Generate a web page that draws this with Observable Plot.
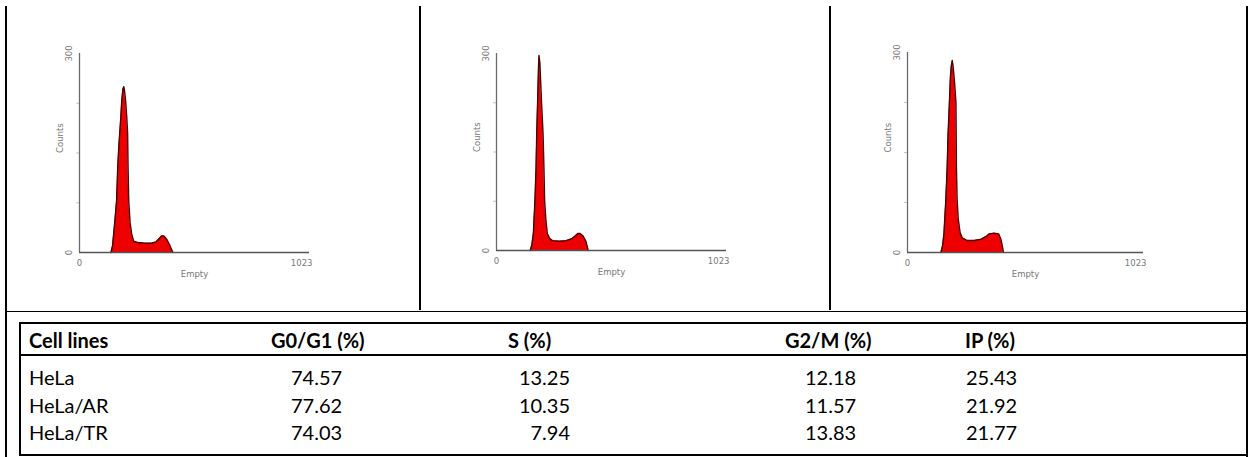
<!DOCTYPE html>
<html>
<head>
<meta charset="utf-8">
<script src="https://cdn.jsdelivr.net/npm/d3@7"></script>
<script src="https://cdn.jsdelivr.net/npm/@observablehq/plot@0.6"></script>
<style>
  html, body { margin: 0; padding: 0; background: #fff; }
  #wrap { position: relative; width: 1251px; height: 457px; overflow: hidden; font-family: Lato, "Open Sans", sans-serif; }
  .line { position: absolute; background: #000; }
  .cell { position: absolute; top: 6px; height: 304px; }
  .cell svg { display: block; }
  #tbl { position: absolute; left: 19px; top: 322px; width: 1228px; height: 134px; }
  .t { position: absolute; font-size: 20px; color: #000; white-space: nowrap; line-height: 22px; }
  .h { font-weight: bold; }
</style>
</head>
<body>
<div id="wrap"></div>
<script>
// ---------- DATA ----------
const panelNames = ["HeLa", "HeLa/AR", "HeLa/TR"];
const xAxisLabel = "Empty";
const yAxisLabel = "Counts";
const xTicks = [0, 1023];
const yTicks = [0, 300];
const yMinorTicks = [75, 150, 225];
const yMax = 300;

// DNA content histograms (channel, counts)
const helaChannel = [140, 147, 152, 158, 165, 170, 175, 179, 184, 188, 193, 197, 201, 205, 210, 214, 216, 219, 225, 232, 241, 260, 290, 320, 340, 355, 365, 375, 388, 400, 410, 416];
const helaCounts  = [0,   10,  28,  50,  78,  128, 160, 180, 205, 229, 246, 250, 242, 229, 205, 180, 128, 78,  45,  28,  17,  15,  14,  14,  16,  21,  25,  25,  20,  12,  4,   0];

const helaARChannel = [150, 157, 164, 171, 176, 179, 183, 187, 189, 193, 200, 207, 211, 214, 220, 226, 237, 249, 280, 310, 335, 350, 362, 372, 385, 398, 405, 408];
const helaARCounts  = [0,   8,   26,  76,  126, 178, 228, 280, 297, 285, 228, 178, 126, 76,  45,  26,  18,  15,  14,  15,  18,  22,  26,  26,  22,  14,  4,   0];

const helaTRChannel = [145, 152, 158, 166, 172, 176, 182, 186, 190, 194, 198, 204, 210, 212, 215, 220, 228, 237, 259, 290, 320, 345, 355, 375, 395, 405, 412, 416];
const helaTRCounts  = [0,   10,  28,  78,  128, 178, 228, 263, 280, 288, 278, 255, 225, 130, 80,  50,  30,  22,  18,  18,  20,  25,  28,  29,  28,  20,  8,   0];

const tableColumns = ["Cell lines", "G0/G1 (%)", "S (%)", "G2/M (%)", "IP (%)"];
const cellLines = ["HeLa", "HeLa/AR", "HeLa/TR"];
const g0g1 = ["74.57", "77.62", "74.03"];
const sPhase = ["13.25", "10.35", "7.94"];
const g2m = ["12.18", "11.57", "13.83"];
const ip = ["25.43", "21.92", "21.77"];

// ---------- LAYOUT ----------
const wrap = document.getElementById("wrap");
function line(x, y, w, h) {
  const d = document.createElement("div");
  d.className = "line";
  Object.assign(d.style, {left: x + "px", top: y + "px", width: w + "px", height: h + "px"});
  wrap.appendChild(d);
}
// outer frame of the figure
line(5, 6, 1243, 1);      // top
line(5, 6, 2, 451);       // left
line(1246, 6, 2, 451);    // right
line(419, 6, 2, 304);     // panel separators
line(829, 6, 2, 304);
line(5, 309, 1243, 1);    // bottom of panels
line(5, 311, 1243, 1);

const cells = [
  {left: 7,   width: 412, ml: 72, mr: 110, mt: 47, mb: 58},
  {left: 421, width: 408, ml: 75, mr: 103, mt: 47, mb: 60},
  {left: 831, width: 415, ml: 76, mr: 103, mt: 46, mb: 58}
];
const series = [
  helaChannel.map((c, i) => ({channel: c, counts: helaCounts[i]})),
  helaARChannel.map((c, i) => ({channel: c, counts: helaARCounts[i]})),
  helaTRChannel.map((c, i) => ({channel: c, counts: helaTRCounts[i]}))
];

const axisColor = "#6a6a6a";
const lbl = {fontSize: 8.5, fill: "#777"};
cells.forEach((c, i) => {
  const div = document.createElement("div");
  div.className = "cell";
  div.style.left = c.left + "px";
  div.style.width = c.width + "px";
  wrap.appendChild(div);
  const data = series[i];
  const chart = Plot.plot({
    width: c.width,
    height: 304,
    marginLeft: c.ml, marginRight: c.mr, marginTop: c.mt, marginBottom: c.mb,
    x: {type: "linear", domain: [0, 1023], axis: null},
    y: {type: "linear", domain: [0, yMax], axis: null},
    style: {fontFamily: "DejaVu Sans, sans-serif", background: "white"},
    marks: [
      Plot.areaY(data, {x: "channel", y: "counts", fill: "#ee0000"}),
      Plot.lineY(data, {x: "channel", y: "counts", stroke: "#4a0000", strokeWidth: 1.4}),
      Plot.ruleX([0], {y1: 0, y2: yMax, stroke: axisColor, strokeWidth: 1.3}),
      Plot.ruleY([0], {x1: 0, x2: 1023, stroke: "#555", strokeWidth: 1.6}),
      Plot.ruleY(yMinorTicks, {x1: -12, x2: 0, stroke: "#bbb"}),
      Plot.text([xTicks[0]], {x: d => d, y: 0, text: d => String(d), dy: 11, textAnchor: "middle", ...lbl}),
      Plot.text([xTicks[1]], {x: d => d, y: 0, text: d => String(d), dy: 11, dx: 3, textAnchor: "end", ...lbl}),
      Plot.text(yTicks, {x: 0, y: d => d, text: d => String(d), dx: -10, rotate: -90, ...lbl}),
      Plot.text([xAxisLabel], {frameAnchor: "bottom", dy: 24, ...lbl}),
      Plot.text([yAxisLabel], {frameAnchor: "left", dx: -19, rotate: -90, ...lbl})
    ]
  });
  div.appendChild(chart);
});

// ---------- TABLE ----------
const tbl = document.createElement("div");
tbl.id = "tbl";
Object.assign(tbl.style, {borderTop: "2px solid #000", borderLeft: "2px solid #000", borderBottom: "2px solid #000", boxSizing: "border-box"});
wrap.appendChild(tbl);
line(19, 354, 1228, 2);   // header underline

const rowY = [5, 42, 70, 97];            // text tops relative to table
function put(text, x, y, bold, align) {
  const d = document.createElement("div");
  d.className = "t" + (bold ? " h" : "");
  d.textContent = text;
  d.style.top = y + "px";
  if (align === "right") { d.style.right = (1226 - x) + "px"; } else { d.style.left = x + "px"; }
  tbl.appendChild(d);
}
const headX = [8, 250, 487, 764, 944];
tableColumns.forEach((t, j) => put(t, headX[j], rowY[0], true));
const cols = [cellLines, g0g1, sPhase, g2m, ip];
const colData = [
  {x: 8, align: "left"},
  {x: 270, align: "left"},
  {x: 549, align: "right"},
  {x: 784, align: "left"},
  {x: 945, align: "left"}
];
cellLines.forEach((_, r) => {
  cols.forEach((col, j) => put(col[r], colData[j].x, rowY[r + 1], false, colData[j].align));
});
</script>
</body>
</html>
